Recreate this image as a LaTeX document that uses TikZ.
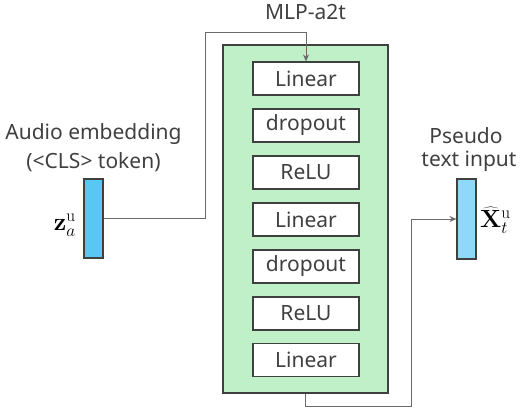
\documentclass[tikz,border=0pt]{standalone}
\usepackage[no-math]{fontspec}
\setmainfont{Noto Sans}
\usetikzlibrary{arrows.meta}
\definecolor{txt}{HTML}{404040}
\definecolor{mlpgreen}{RGB}{192,240,200}
\definecolor{barA}{RGB}{88,200,242}
\definecolor{barB}{RGB}{142,216,250}
\definecolor{wire}{HTML}{6A6A6A}
\tikzset{
  lbl/.style={font=\fontsize{21}{29}\selectfont, text=txt, inner sep=0pt, align=center},
  layerbox/.style={draw=txt, line width=1.2pt, fill=white, minimum width=106pt, minimum height=33pt, inner sep=0pt, font=\fontsize{21}{25}\selectfont, text=txt},
  mlpbox/.style={draw=txt, line width=1.2pt, fill=mlpgreen, minimum width=165pt, minimum height=348pt, inner sep=0pt},
  vecbar/.style={draw=txt, line width=1.2pt, minimum width=19pt, minimum height=79pt, inner sep=0pt},
  wireline/.style={draw=wire, line width=1pt},
  tip/.style={-{Stealth[length=7pt,width=6pt]}},
  mathlbl/.style={inner sep=0pt, font=\fontsize{25}{30}\selectfont, text=black}
}
\begin{document}
\begin{tikzpicture}[x=1pt,y=-1pt]
\useasboundingbox (0,0) rectangle (520,408);
% MLP container
\node[mlpbox] (mlp) at (305.5,219) {};
\node[lbl] (title) at (305.5,12) {MLP-a2t};
% layers
\node[layerbox] (l1) at (306,78.5) {Linear};
\node[layerbox] (l2) at (306,125.5) {dropout};
\node[layerbox] (l3) at (306,172.5) {ReLU};
\node[layerbox] (l4) at (306,219.5) {Linear};
\node[layerbox] (l5) at (306,266.5) {dropout};
\node[layerbox] (l6) at (306,313.5) {ReLU};
\node[layerbox] (l7) at (306,360) {Linear};
% input bar
\node[vecbar, fill=barA] (za) at (93.5,218.5) {};
\node[lbl] (audiolbl) at (93.5,148) {Audio embedding\\(<CLS> token)};
\node[mathlbl, anchor=east] (zalbl) at (76,225) {$\mathbf{z}_a^{\mathrm{u}}$};
% output bar
\node[vecbar, fill=barB, minimum height=80pt] (xt) at (466.5,219) {};
\node[lbl] (pseudo1) at (466,136) {Pseudo};
\node[lbl] (pseudo2) at (469,161) {text input};
\node[mathlbl, anchor=west] (xtlbl) at (480,220) {$\widehat{\mathbf{X}}_t^{\mathrm{u}}$};
% connectors
\coordinate (c1) at (205,32);
\coordinate (c2) at (411,406);
\draw[wireline, tip] (za.east) -| (c1) -| (l1.north);
\draw[wireline, tip] (mlp.south) |- (c2) |- (xt.west);
\end{tikzpicture}
\end{document}
